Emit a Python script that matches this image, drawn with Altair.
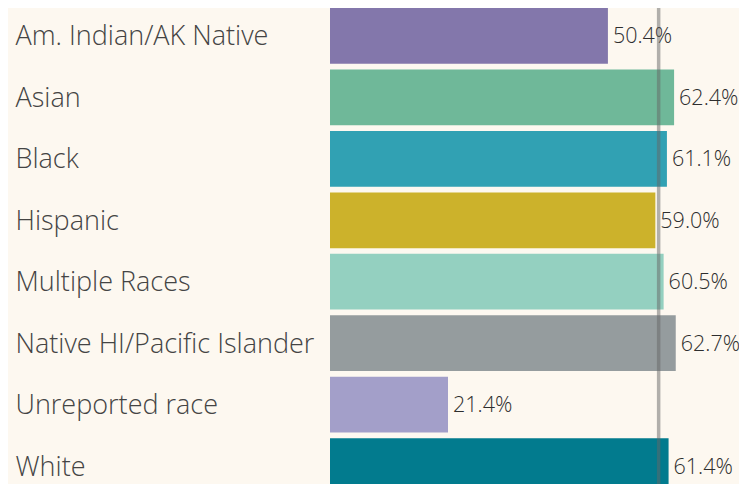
import altair as alt
import pandas as pd

groups = ["Am. Indian/AK Native", "Asian", "Black", "Hispanic", "Multiple Races",
          "Native HI/Pacific Islander", "Unreported race", "White"]
values = [50.4, 62.4, 61.1, 59.0, 60.5, 62.7, 21.4, 61.4]
colors = ["#8377ab", "#6fb899", "#31a1b3", "#ccb22b", "#94d0c0", "#959c9e", "#a39fc9", "#027b8e"]
ref_value = [59.6]

df = pd.DataFrame({"group": groups, "value": values,
                   "label": [f"{v:.1f}%" for v in values]})
ref = pd.DataFrame({"ref": ref_value})

W = 386
H = 476
xscale = alt.Scale(domain=[0, 70], nice=False)
yscale = alt.Scale(domain=groups, paddingInner=0.093, paddingOuter=0, range=[0, 486])

base = alt.Chart(df).encode(
    y=alt.Y("group:N", sort=groups, scale=yscale,
            axis=alt.Axis(title=None, ticks=False, domain=False, labelAlign="left",
                          labelPadding=315, labelFontSize=27, labelColor="#444444",
                          labelFont="Open Sans", labelFontWeight=300, labelOffset=1.5,
                          labelLimit=400, grid=False))
)

bars = base.mark_bar(opacity=1).encode(
    x=alt.X("value:Q", scale=xscale, axis=None),
    color=alt.Color("group:N", scale=alt.Scale(domain=groups, range=colors), legend=None),
)

text = base.mark_text(align="left", baseline="middle", dx=5, dy=1.5, fontSize=21.5,
                      font="Open Sans", fontWeight=300, color="#2e2e2e").encode(
    x=alt.X("value:Q", scale=xscale, axis=None),
    text="label:N",
)

rule = alt.Chart(ref).mark_rule(color="#666666", opacity=0.5, strokeWidth=3.5).encode(
    x=alt.X("ref:Q", scale=xscale, axis=None),
    y=alt.value(-3),
    y2=alt.value(H + 20),
)

chart = alt.layer(bars, text, rule).properties(
    width=W, height=H,
    background="#fdf8f0",
    padding={"left": 322, "top": 0, "right": 23, "bottom": 0},
    autosize=alt.AutoSizeParams(type="none"),
).configure_view(stroke=None)

chart.save("out.html", embed_options={"renderer": "svg", "actions": False})
